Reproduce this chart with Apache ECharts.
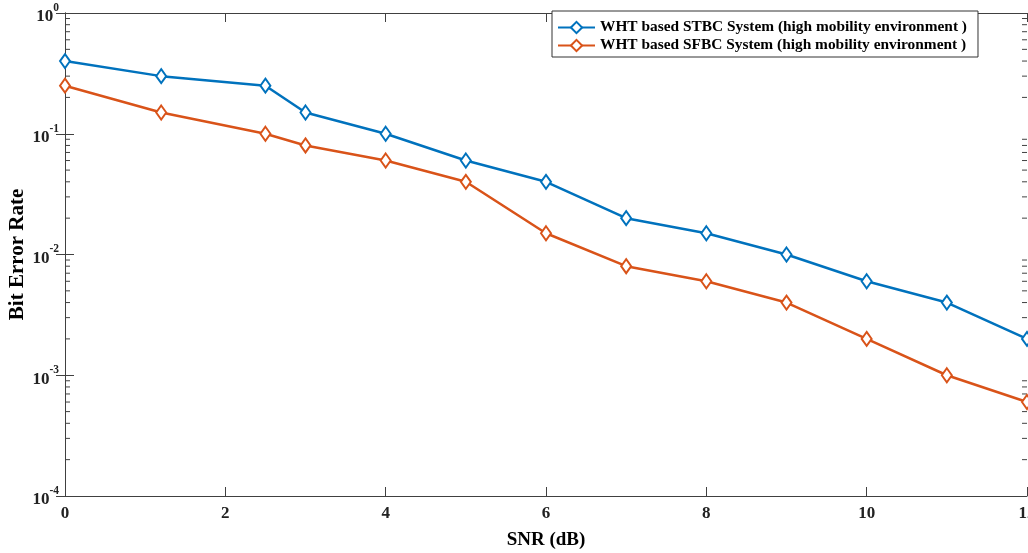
<!DOCTYPE html>
<html>
<head>
<meta charset="utf-8">
<script src="https://cdn.jsdelivr.net/npm/echarts@6/dist/echarts.min.js"></script>
<style>
  html, body { margin: 0; padding: 0; background: #fff; }
  #ber_chart { width: 1028px; height: 553px; }
</style>
</head>
<body>
<div id="ber_chart"></div>
<script>
// SNR points (dB)
const snr = [0, 1.2, 2.5, 3, 4, 5, 6, 7, 8, 9, 10, 11, 12]
// BER values
const stbcBer = [0.4, 0.3, 0.25, 0.15, 0.1, 0.06, 0.04, 0.02, 0.015, 0.01, 0.006, 0.004, 0.002]
const sfbcBer = [0.25, 0.15, 0.1, 0.08, 0.06, 0.04, 0.015, 0.008, 0.006, 0.004, 0.002, 0.001, 0.0006]
const seriesNames = [
  'WHT based STBC System (high mobility environment )',
  'WHT based SFBC System (high mobility environment )'
]
// minor tick positions of the log axis (2..9 x each decade)
const minorTicks = [
  2e-4, 3e-4, 4e-4, 5e-4, 6e-4, 7e-4, 8e-4, 9e-4,
  2e-3, 3e-3, 4e-3, 5e-3, 6e-3, 7e-3, 8e-3, 9e-3,
  2e-2, 3e-2, 4e-2, 5e-2, 6e-2, 7e-2, 8e-2, 9e-2,
  0.2, 0.3, 0.4, 0.5, 0.6, 0.7, 0.8, 0.9
]

const font = 'Liberation Serif'
const axisColor = '#404040'

let chart = echarts.init(document.getElementById('ber_chart'))

const pairs = (ys) => snr.map((x, i) => [x, ys[i]])

const lineSeries = (name, ys, color) => ({
  name: name,
  type: 'line',
  data: pairs(ys),
  symbol: 'diamond',
  symbolSize: [10, 14],
  showAllSymbol: true,
  lineStyle: { color: color, width: 2.5 },
  itemStyle: { color: '#fff', borderColor: color, borderWidth: 2 },
  z: 3
})

chart.setOption({
  animation: false,
  backgroundColor: '#fff',
  textStyle: { fontFamily: font },
  grid: { left: 65, right: 1, top: 13, bottom: 57, containLabel: false, outerBoundsMode: 'none' },
  legend: {
    orient: 'vertical',
    left: 552,
    top: 11,
    padding: [9, 11, 4, 5],
    itemGap: 3,
    itemWidth: 37,
    itemHeight: 14,
    backgroundColor: '#fff',
    borderColor: '#333',
    borderWidth: 1,
    borderRadius: 0,
    textStyle: { fontFamily: font, fontWeight: 'bold', fontSize: 15.4, color: '#000' },
    data: seriesNames
  },
  xAxis: [
    {
      type: 'value',
      min: 0,
      max: 12,
      interval: 2,
      name: 'SNR (dB)',
      nameLocation: 'middle',
      nameGap: 35,
      nameTextStyle: { fontFamily: font, fontWeight: 'bold', fontSize: 19, color: '#000' },
      axisLine: { lineStyle: { color: axisColor, width: 1 } },
      axisTick: { inside: true, length: 9, lineStyle: { color: axisColor } },
      axisLabel: { margin: 9, fontFamily: font, fontWeight: 'bold', fontSize: 17, color: '#222' },
      splitLine: { show: false }
    },
    {
      type: 'value',
      position: 'top',
      min: 0,
      max: 12,
      interval: 2,
      axisLine: { lineStyle: { color: axisColor, width: 1 } },
      axisTick: { inside: true, length: 9, lineStyle: { color: axisColor } },
      axisLabel: { show: false },
      splitLine: { show: false }
    }
  ],
  yAxis: [
    {
      type: 'log',
      logBase: 10,
      min: 1e-4,
      max: 1,
      name: 'Bit Error Rate',
      nameLocation: 'middle',
      nameGap: 37,
      nameMoveOverlap: false,
      nameTextStyle: { fontFamily: font, fontWeight: 'bold', fontSize: 21, color: '#000' },
      axisLine: { lineStyle: { color: axisColor, width: 1 } },
      axisTick: { inside: true, length: 9, lineStyle: { color: axisColor } },
      axisLabel: {
        margin: 6,
        formatter: function (v) {
          const e = Math.round(Math.log10(v))
          return '{b|10}{s|' + e + '}'
        },
        rich: {
          b: { fontFamily: font, fontWeight: 'bold', fontSize: 17, color: '#222', padding: [8, 0, 0, 0] },
          s: { fontFamily: font, fontWeight: 'bold', fontSize: 11.5, color: '#222', padding: [0, 0, 10, 0] }
        }
      },
      splitLine: { show: false }
    },
    {
      type: 'log',
      logBase: 10,
      position: 'right',
      min: 1e-4,
      max: 1,
      axisLine: { lineStyle: { color: axisColor, width: 1 } },
      axisTick: { inside: true, length: 9, lineStyle: { color: axisColor } },
      axisLabel: { show: false },
      splitLine: { show: false }
    }
  ],
  series: [
    lineSeries(seriesNames[0], stbcBer, '#0072BD'),
    lineSeries(seriesNames[1], sfbcBer, '#D95319'),
    {
      // minor ticks of the log axes, left and right edges
      type: 'custom',
      silent: true,
      data: minorTicks.map(v => [0, v]),
      renderItem: function (params, api) {
        const cs = params.coordSys
        const y = api.coord([0, api.value(1)])[1]
        const style = { stroke: axisColor, lineWidth: 1 }
        return {
          type: 'group',
          children: [
            { type: 'line', shape: { x1: cs.x, y1: y, x2: cs.x + 5, y2: y }, style: style },
            { type: 'line', shape: { x1: cs.x + cs.width - 5, y1: y, x2: cs.x + cs.width, y2: y }, style: style }
          ]
        }
      },
      z: 1
    }
  ]
})

window.addEventListener('resize', () => chart.resize())
</script>
</body>
</html>
